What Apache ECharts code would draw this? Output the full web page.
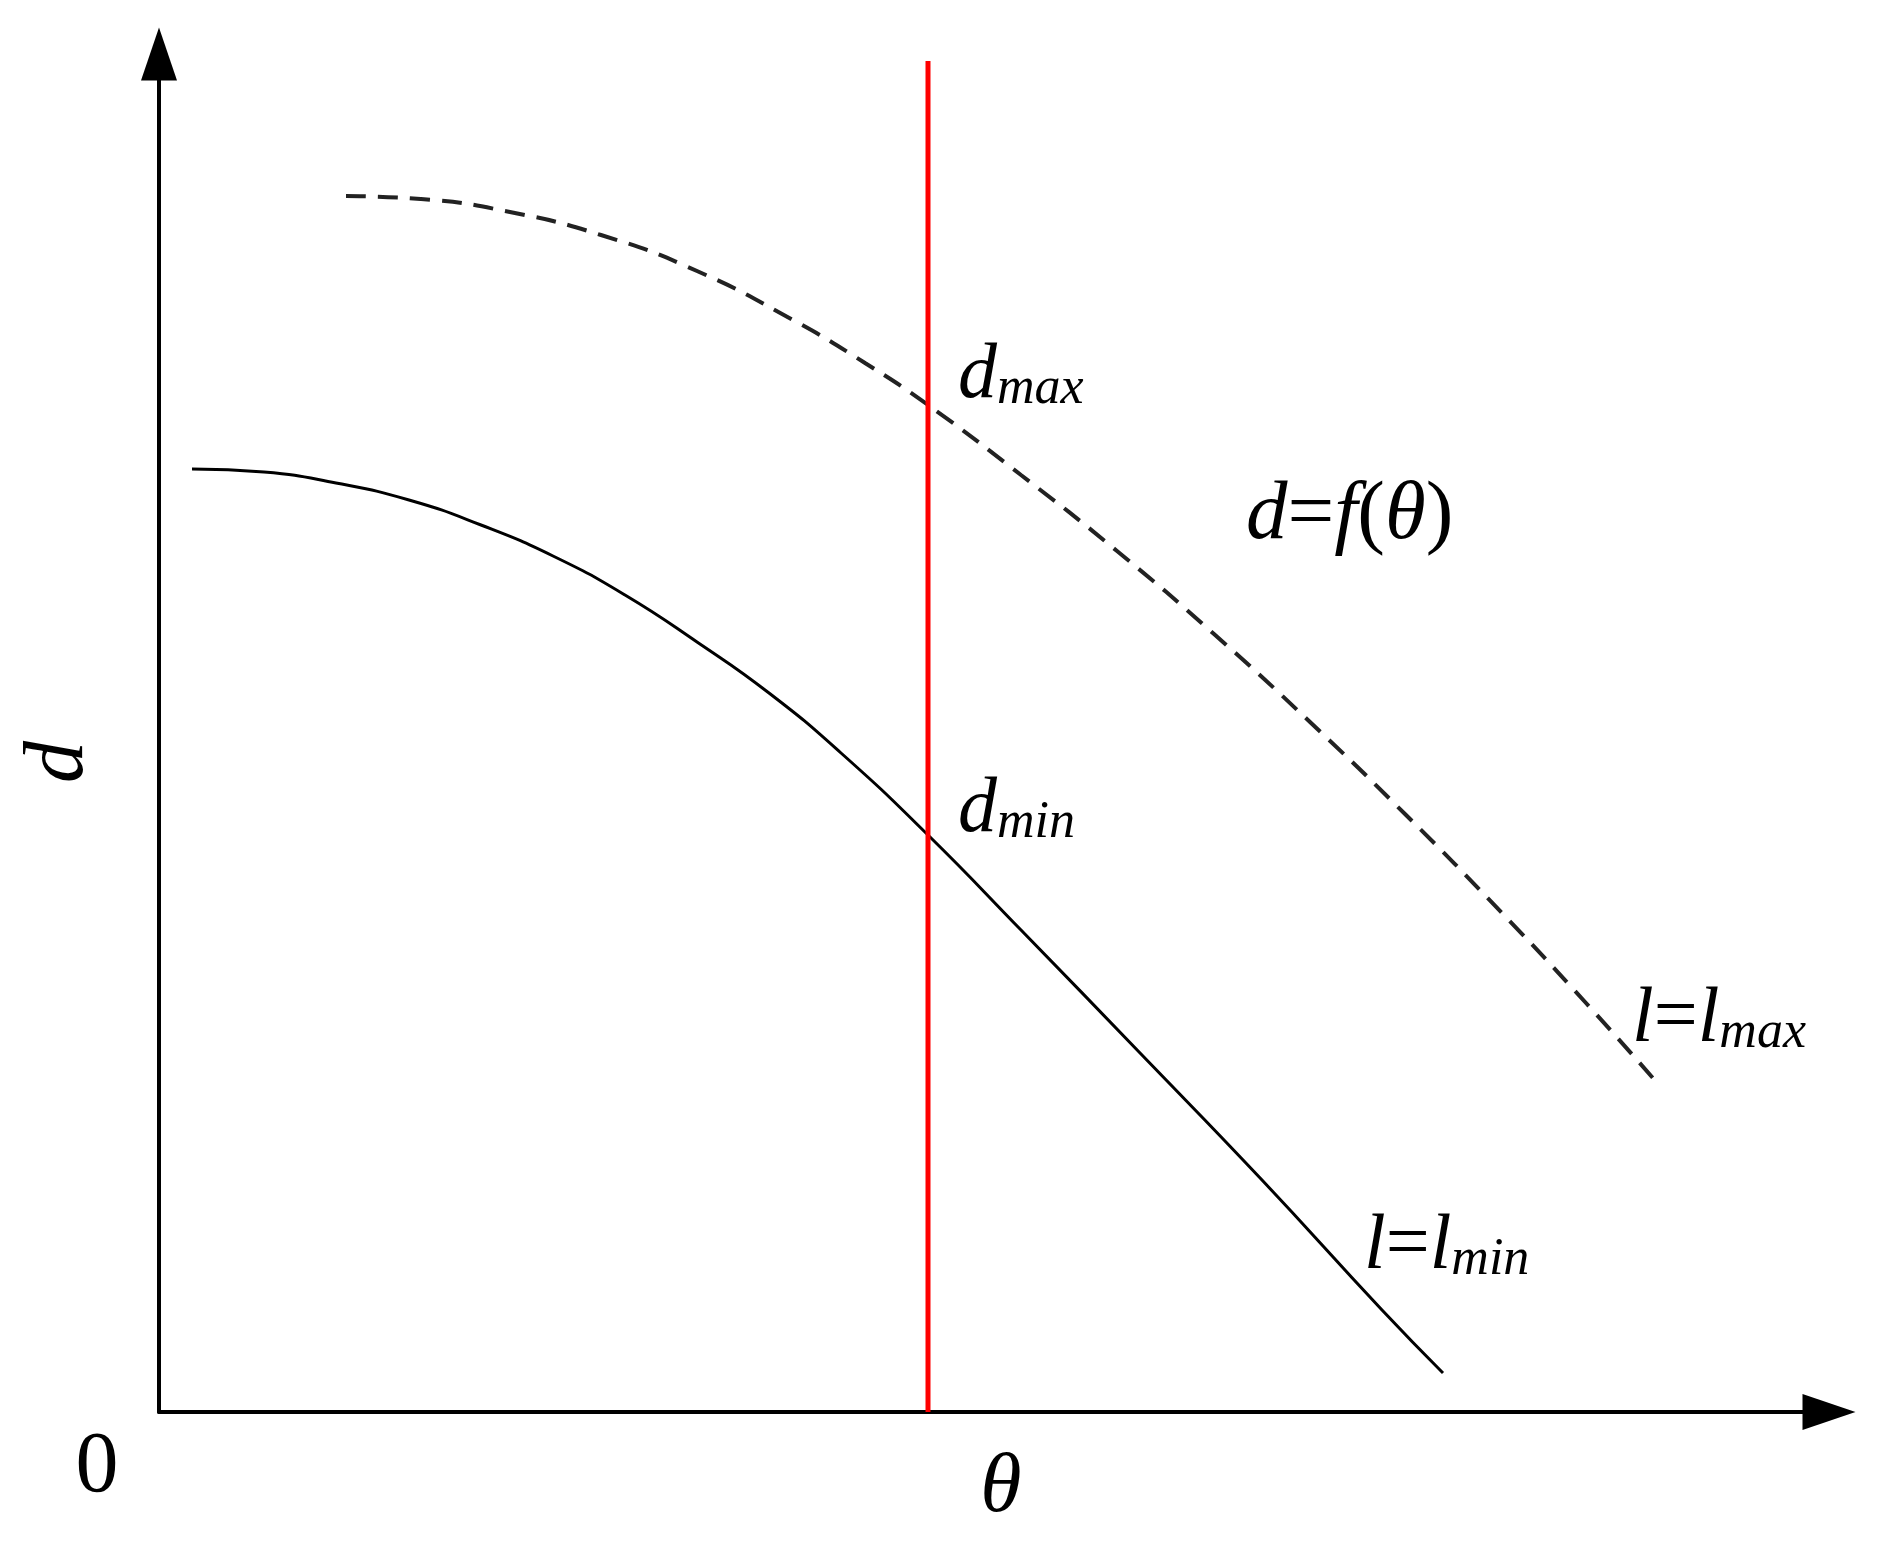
<!DOCTYPE html>
<html>
<head>
<meta charset="utf-8">
<script src="https://cdn.jsdelivr.net/npm/echarts@6/dist/echarts.min.js"></script>
<style>html,body{margin:0;padding:0;background:#fff;}#c{width:1884px;height:1546px;}</style>
</head>
<body>
<div id="c"></div>
<script>
// Values (arbitrary units, origin at the axes corner)
const lowerTheta = [33, 105, 177, 250, 322, 394, 466, 538, 610, 682, 769, 862, 982, 1103, 1223, 1284];
const lowerD     = [943, 940, 929, 912, 887, 856, 817, 770, 719, 659, 577, 482, 358, 232, 102, 39];
const upperTheta = [187, 262, 346, 442, 538, 634, 706, 769, 862, 958, 1055, 1151, 1247, 1343, 1427, 1500];
const upperD     = [1216, 1213, 1201, 1177, 1141, 1092, 1049, 1007, 937, 861, 778, 690, 597, 499, 409, 327];
const markerTheta = [769, 769];
const markerD     = [0, 1351];
const xMax = 1670, yMax = 1358;

const zip = (a, b) => a.map((v, i) => [v, b[i]]);

const FONT = 'Liberation Serif';
const S = 78, s = 52, L = 83;
const rich = {
  m: {fontFamily: FONT, fontStyle: 'italic', fontSize: S, lineHeight: S, verticalAlign: 'bottom', fill: '#000'},
  r: {fontFamily: FONT, fontStyle: 'normal', fontSize: S, lineHeight: S, verticalAlign: 'bottom', fill: '#000'},
  s: {fontFamily: FONT, fontStyle: 'italic', fontSize: s, lineHeight: s, verticalAlign: 'bottom', fill: '#000'},
  M: {fontFamily: FONT, fontStyle: 'italic', fontSize: L, lineHeight: L, verticalAlign: 'bottom', fill: '#000'},
  R: {fontFamily: FONT, fontStyle: 'normal', fontSize: L, lineHeight: L, verticalAlign: 'bottom', fill: '#000'}
};
function txt(x, baseline, text, size) {
  return {type: 'text', x: x, y: baseline + Math.round(0.16 * (size || S)), z: 100,
    style: {text: text, rich: rich, align: 'left', verticalAlign: 'bottom', fill: '#000'}};
}

const chart = echarts.init(document.getElementById('c'), null, {renderer: 'canvas'});
chart.setOption({
  animation: false,
  backgroundColor: '#fff',
  grid: {left: 159, top: 54, right: 55, bottom: 134, containLabel: false, outerBoundsMode: 'none'},
  xAxis: {
    type: 'value', min: 0, max: xMax,
    axisLine: {show: true, onZero: false, symbol: ['none', 'triangle'], symbolSize: [36, 53],
      lineStyle: {color: '#000', width: 4}},
    axisTick: {show: false}, axisLabel: {show: false}, splitLine: {show: false}
  },
  yAxis: {
    type: 'value', min: 0, max: yMax,
    axisLine: {show: true, onZero: false, symbol: ['none', 'triangle'], symbolSize: [36, 53],
      lineStyle: {color: '#000', width: 4}},
    axisTick: {show: false}, axisLabel: {show: false}, splitLine: {show: false}
  },
  series: [
    {type: 'line', data: zip(lowerTheta, lowerD), smooth: true, showSymbol: false,
      lineStyle: {color: '#000', width: 3}},
    {type: 'line', data: zip(upperTheta, upperD), smooth: true, showSymbol: false,
      lineStyle: {color: '#222', width: 4, type: [20, 12]}},
    {type: 'line', data: zip(markerTheta, markerD), showSymbol: false,
      lineStyle: {color: '#ff0000', width: 5}}
  ],
  graphic: [
    txt(958, 403, '{m|d}{s|max}'),
    txt(958, 837, '{m|d}{s|min}'),
    txt(1246, 545, '{M|d}{R|=}{M|f}{R|(}{M|θ}{R|)}', L),
    txt(1632, 1047, '{m|l}{r|=}{m|l}{s|max}'),
    txt(1364, 1274, '{m|l}{r|=}{m|l}{s|min}'),
    {type: 'text', x: 97, y: 1468, style: {text: '0', fontFamily: FONT, fontSize: 86, fill: '#000', align: 'center', verticalAlign: 'middle'}},
    {type: 'text', x: 1001, y: 1489, style: {text: 'θ', fontFamily: FONT, fontStyle: 'italic', fontSize: 84, fill: '#000', align: 'center', verticalAlign: 'middle'}},
    {type: 'text', x: 60, y: 762, rotation: Math.PI / 2, style: {text: 'd', fontFamily: FONT, fontStyle: 'italic', fontSize: 84, fill: '#000', align: 'center', verticalAlign: 'middle'}}
  ]
});
</script>
</body>
</html>
